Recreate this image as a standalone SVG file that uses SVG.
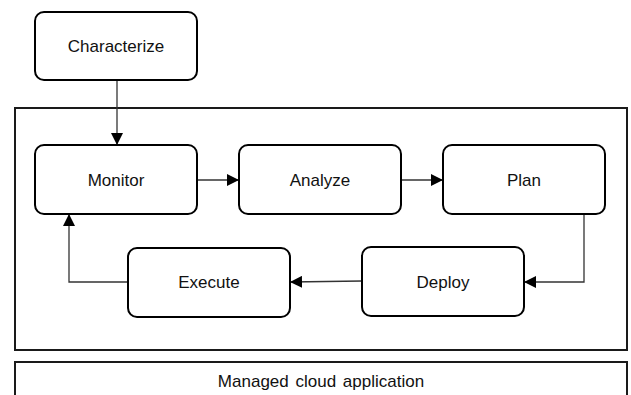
<svg xmlns="http://www.w3.org/2000/svg" width="631" height="395" viewBox="0 0 631 395">
<style>
.box{fill:#fff;stroke:#000;stroke-width:2}
.frame{fill:none;stroke:#1a1a1a;stroke-width:2}
.lbl{font-family:"Liberation Sans",Arial,sans-serif;font-size:17px;fill:#111;text-anchor:middle;dominant-baseline:central}
.conn{fill:none;stroke:#333;stroke-width:1.3}
</style>
<defs>
<marker id="ah" viewBox="0 0 10 10" refX="10" refY="5" markerWidth="12" markerHeight="12" markerUnits="userSpaceOnUse" orient="auto">
<path d="M0,0 L10,5 L0,10 Z" fill="#000"/>
</marker>
</defs>
<g id="container"><rect class="frame" x="15" y="108" width="612" height="242"/></g>
<g id="app"><rect class="frame" x="15" y="362" width="612" height="40"/><text class="lbl" x="321" y="381" style="word-spacing:2px">Managed cloud application</text></g>
<g id="connectors">
<line class="conn" x1="117" y1="80" x2="117" y2="145" marker-end="url(#ah)"/>
<line class="conn" x1="197" y1="180" x2="239" y2="180" marker-end="url(#ah)"/>
<line class="conn" x1="401" y1="180" x2="443" y2="180" marker-end="url(#ah)"/>
<polyline class="conn" points="584,214 584,282 524,282" marker-end="url(#ah)"/>
<line class="conn" x1="362" y1="281" x2="290" y2="282" marker-end="url(#ah)"/>
<polyline class="conn" points="130,282 69,282 69,214" marker-end="url(#ah)"/>
</g>
<g id="characterize"><rect class="box" x="35" y="12" width="162" height="68" rx="9"/><text class="lbl" x="116" y="46">Characterize</text></g>
<g id="monitor"><rect class="box" x="35" y="145" width="162" height="69" rx="9"/><text class="lbl" x="116" y="180">Monitor</text></g>
<g id="analyze"><rect class="box" x="239" y="145" width="162" height="69" rx="9"/><text class="lbl" x="320" y="180">Analyze</text></g>
<g id="plan"><rect class="box" x="443" y="145" width="162" height="69" rx="9"/><text class="lbl" x="524" y="180">Plan</text></g>
<g id="deploy"><rect class="box" x="362" y="247" width="162" height="69" rx="9"/><text class="lbl" x="443" y="282">Deploy</text></g>
<g id="execute"><rect class="box" x="128" y="248" width="162" height="69" rx="9"/><text class="lbl" x="209" y="282">Execute</text></g>
</svg>
